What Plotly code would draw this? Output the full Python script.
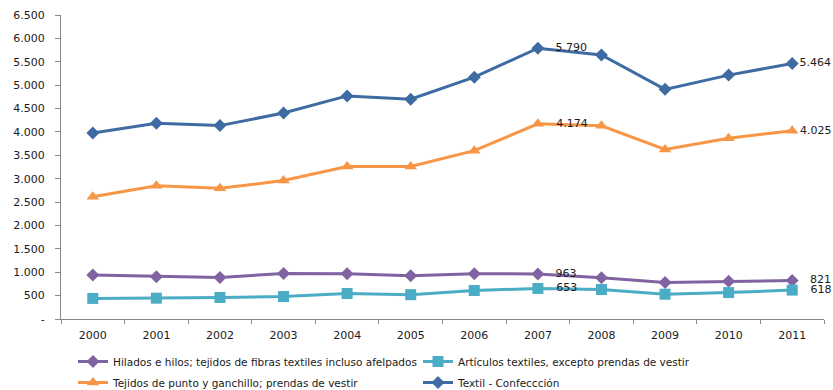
import plotly.graph_objects as go

years = ["2000", "2001", "2002", "2003", "2004", "2005",
         "2006", "2007", "2008", "2009", "2010", "2011"]

hilados = [940, 905, 885, 975, 970, 925, 970, 963, 880, 780, 805, 821]
articulos = [440, 445, 460, 480, 545, 520, 610, 653, 630, 530, 565, 618]
tejidos_punto = [2615, 2850, 2795, 2960, 3260, 3260, 3600, 4174, 4130, 3625, 3865, 4025]
textil_confeccion = [3975, 4185, 4135, 4405, 4770, 4700, 5170, 5790, 5645, 4910, 5215, 5464]

y_ticks = [0, 500, 1000, 1500, 2000, 2500, 3000, 3500, 4000, 4500, 5000, 5500, 6000, 6500]
y_tick_text = ["-", "500", "1.000", "1.500", "2.000", "2.500", "3.000", "3.500",
               "4.000", "4.500", "5.000", "5.500", "6.000", "6.500"]

labelled_years = ["2007", "2011"]
NBSP = "\u00a0"


def fmt(v):
    return f"{v:,}".replace(",", ".")


def point_labels(values, pad_2011):
    # the 2007 peak and the 2011 closing value carry their number
    out = []
    for yr, v in zip(years, values):
        if yr == "2007":
            out.append(NBSP * 3 + fmt(v))
        elif yr == "2011":
            out.append(NBSP * pad_2011 + fmt(v))
        else:
            out.append("")
    return out


# name, values, colour, marker, marker size, legend slot (x, y in px), 2011 label padding
series = [
    ("Hilados e hilos; tejidos de fibras textiles incluso afelpados", hilados,
     "#8064A2", "diamond", 10, (73, 347), 3),
    ("Artículos textiles, excepto prendas de vestir", articulos,
     "#4BACC6", "square", 11, (418, 347), 3),
    ("Tejidos de punto y ganchillo; prendas de vestir", tejidos_punto,
     "#F79646", "triangle-up", 11, (73, 368), 0),
    ("Textil - Confeccción", textil_confeccion,
     "#3F6BA3", "diamond", 10, (418, 368), 0),
]

legend_font = dict(family="DejaVu Sans", size=10.5, color="#1a1a1a")

fig = go.Figure()
layout_legends = {}
for i, (name, vals, color, symbol, size, (lx, ly), pad11) in enumerate(series):
    leg_id = "legend" if i == 0 else f"legend{i + 1}"
    fig.add_trace(go.Scatter(
        x=years, y=vals, name=name, legend=leg_id,
        mode="lines+markers+text",
        line=dict(color=color, width=3),
        marker=dict(symbol=symbol, size=size, color=color),
        text=point_labels(vals, pad11), textposition="middle right",
        textfont=dict(family="DejaVu Sans", size=11, color="#1a1a1a"),
        cliponaxis=False,
    ))
    layout_legends[leg_id] = dict(
        orientation="h", xref="container", yref="container",
        x=lx / 833, y=1 - ly / 390, xanchor="left", yanchor="top",
        font=legend_font, bgcolor="rgba(0,0,0,0)",
        itemclick=False, itemdoubleclick=False,
    )

fig.update_layout(
    width=833, height=390,
    margin=dict(l=61, r=9, t=15, b=71, autoexpand=False),
    paper_bgcolor="white", plot_bgcolor="white",
    font=dict(family="DejaVu Sans", size=11, color="#1a1a1a"),
    showlegend=True,
    xaxis=dict(type="category", range=[-0.5, 11.5], automargin=False,
               showline=True, linecolor="#888888", linewidth=1,
               ticks="outside", ticklen=4, tickcolor="#888888",
               tickson="boundaries", showgrid=False, zeroline=False,
               ticklabelstandoff=6,
               tickfont=dict(family="DejaVu Sans", size=11, color="#1a1a1a")),
    yaxis=dict(range=[0, 6500], tickvals=y_ticks, ticktext=y_tick_text,
               automargin=False,
               showline=True, linecolor="#888888", linewidth=1,
               ticks="outside", ticklen=5, tickcolor="#888888",
               showgrid=False, zeroline=False,
               ticklabelstandoff=8,
               tickfont=dict(family="DejaVu Sans", size=11, color="#1a1a1a")),
    **layout_legends,
)

fig.write_html("out.html")
